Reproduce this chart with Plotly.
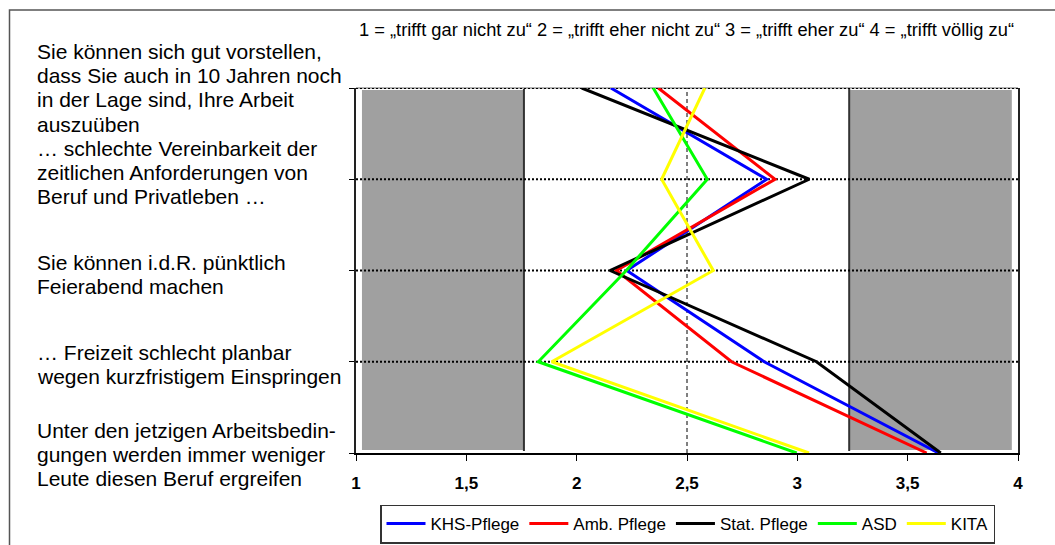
import plotly.graph_objects as go

# ---------------- data ----------------
categories = [
    "Sie können sich gut vorstellen, dass Sie auch in 10 Jahren noch in der Lage sind, Ihre Arbeit auszuüben",
    "… schlechte Vereinbarkeit der zeitlichen Anforderungen von Beruf und Privatleben …",
    "Sie können i.d.R. pünktlich Feierabend machen",
    "… Freizeit schlecht planbar wegen kurzfristigem Einspringen",
    "Unter den jetzigen Arbeitsbedingungen werden immer weniger Leute diesen Beruf ergreifen",
]
label_lines = [
    ["Sie können sich gut vorstellen,", "dass Sie auch in 10 Jahren noch",
     "in der Lage sind, Ihre Arbeit", "auszuüben"],
    ["… schlechte Vereinbarkeit der", "zeitlichen Anforderungen von",
     "Beruf und Privatleben …"],
    ["Sie können i.d.R. pünktlich", "Feierabend machen"],
    ["… Freizeit schlecht planbar", "wegen kurzfristigem Einspringen"],
    ["Unter den jetzigen Arbeitsbedin-", "gungen werden immer weniger",
     "Leute diesen Beruf ergreifen"],
]

series_names = ["KHS-Pflege", "Amb. Pflege", "Stat. Pflege", "ASD", "KITA"]
khs_pflege = [2.155, 2.861, 2.227, 2.850, 3.640]
amb_pflege = [2.370, 2.899, 2.180, 2.702, 3.586]
stat_pflege = [2.023, 3.054, 2.151, 3.087, 3.650]
asd = [2.347, 2.592, 2.225, 1.826, 2.997]
kita = [2.581, 2.385, 2.619, 1.887, 3.053]

tick_values = [1, 1.5, 2, 2.5, 3, 3.5, 4]
tick_labels = ["1", "1,5", "2", "2,5", "3", "3,5", "4"]

title_text = "1 = „trifft gar nicht zu“ 2 = „trifft eher nicht zu“ 3 = „trifft eher zu“ 4 = „trifft völlig zu“"

# shaded zones (x ranges)
band_left = [1.027, 1.761]
band_right = [3.235, 3.972]

# ---------------- styling ----------------
colors = ["#0000FF", "#FF0000", "#000000", "#00FF00", "#FFFF00"]
FONT = "Liberation Sans, Arial, sans-serif"

W, H = 1055, 545
ML, MR, MT, MB = 356, 37, 88, 92
PW, PH = W - ML - MR, H - MT - MB


def px_x(px):
    return (px - ML) / PW


def px_y(py):
    return 1 - (py - MT) / PH


fig = go.Figure()

for name, vals, col in zip(series_names, [khs_pflege, amb_pflege, stat_pflege, asd, kita], colors):
    fig.add_trace(go.Scatter(
        x=vals, y=categories, mode="lines", name=name,
        line=dict(color=col, width=3),
    ))

shapes = []
# grey bands
for (x0, x1), edge in ((band_left, band_left[1]), (band_right, band_right[0])):
    shapes.append(dict(type="rect", xref="x", yref="paper", x0=x0, x1=x1,
                       y0=px_y(450), y1=px_y(90), fillcolor="#A0A0A0",
                       line=dict(width=0), layer="below"))
    shapes.append(dict(type="line", xref="x", yref="paper", x0=edge, x1=edge,
                       y0=px_y(451), y1=px_y(89), line=dict(color="#333333", width=2),
                       layer="below"))
# top border of plot
shapes.append(dict(type="line", xref="paper", yref="paper", x0=0, x1=1, y0=1, y1=1,
                   line=dict(color="#9A9A9A", width=1.5), layer="below"))
# dotted horizontal grid lines at the statements
for c in categories[:-1]:
    shapes.append(dict(type="line", xref="paper", yref="y", x0=0, x1=1, y0=c, y1=c,
                       line=dict(color="black", width=2, dash="2px,2px"), layer="below"))
# dashed vertical line at 2.5
shapes.append(dict(type="line", xref="x", yref="paper", x0=2.5, x1=2.5, y0=0, y1=1,
                   line=dict(color="black", width=1, dash="4px,3px"), layer="below"))
# outer frame
shapes.append(dict(type="rect", xref="paper", yref="paper",
                   x0=px_x(9.5), x1=px_x(1200), y0=px_y(700), y1=px_y(10),
                   line=dict(color="#555555", width=1.5), fillcolor="rgba(0,0,0,0)"))

annotations = []
first_line_y = [52, 148, 262, 352, 430]
for lines, y0 in zip(label_lines, first_line_y):
    for i, ln in enumerate(lines):
        annotations.append(dict(
            text=ln, xref="paper", yref="paper", x=px_x(35), y=px_y(y0 + 24 * i),
            xanchor="left", yanchor="middle", showarrow=False,
            font=dict(family=FONT, size=21, color="black"),
        ))
annotations.append(dict(
    text=title_text, xref="paper", yref="paper", x=px_x(357), y=px_y(30),
    xanchor="left", yanchor="middle", showarrow=False,
    font=dict(family=FONT, size=18.3, color="black"),
))

fig.update_layout(
    width=W, height=H,
    margin=dict(l=ML, r=MR, t=MT, b=MB, pad=0, autoexpand=False),
    paper_bgcolor="white", plot_bgcolor="white",
    font=dict(family=FONT, color="black"),
    showlegend=True,
    legend=dict(
        orientation="h", x=px_x(687.5), y=px_y(524), xanchor="center", yanchor="middle",
        bordercolor="#333333", borderwidth=1.5, bgcolor="white",
        font=dict(family=FONT, size=17, color="black"),
        itemwidth=39,
    ),
    shapes=shapes,
    annotations=annotations,
    xaxis=dict(
        range=[1, 4], tickvals=tick_values, ticktext=tick_labels,
        showgrid=False, zeroline=False,
        showline=True, linecolor="black", linewidth=2,
        ticks="outside", ticklen=6, tickwidth=1, tickcolor="black",
        tickfont=dict(family=FONT, size=17, color="black", weight="bold"),
        ticklabelstandoff=8,
    ),
    yaxis=dict(
        type="category", categoryorder="array", categoryarray=categories,
        range=[4, 0], showgrid=False, zeroline=False,
        showline=True, linecolor="#222222", linewidth=1.5, mirror=True,
        ticks="outside", ticklen=5, tickcolor="black", tickwidth=1,
        showticklabels=False,
    ),
)

fig.write_html("out.html", config={"displayModeBar": False},
               post_script="document.body.style.margin='0';document.body.style.overflow='hidden';")
